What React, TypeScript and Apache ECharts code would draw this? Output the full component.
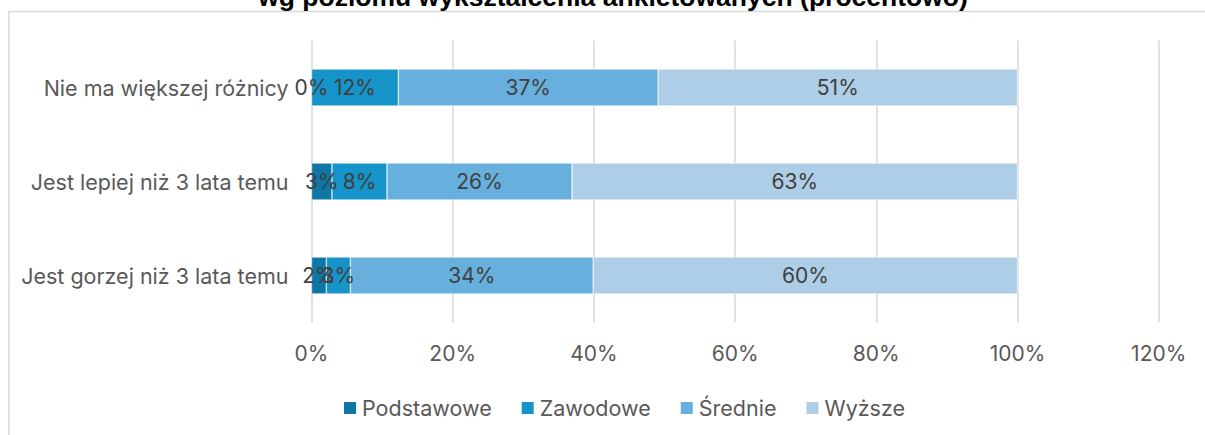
import React, { useEffect, useRef } from "react";
import * as echarts from "echarts";

const categories = [
  "Nie ma większej różnicy",
  "Jest lepiej niż 3 lata temu",
  "Jest gorzej niż 3 lata temu",
];
const seriesNames = ["Podstawowe", "Zawodowe", "Średnie", "Wyższe"];
const podstawowe = [0, 2.9, 2.1];
const zawodowe = [12.3, 7.8, 3.4];
const srednie = [36.8, 26.2, 34.4];
const wyzsze = [50.9, 63.1, 60.1];
const colors = ["#0f77a5", "#1693c9", "#67afdc", "#aecde6"];
const xTicks = { min: 0, max: 120, interval: 20 };
const titleText = "wg poziomu wykształcenia ankietowanych (procentowo)";

const FONT = "Inter, 'Noto Sans', sans-serif";

export default function App() {
  const ref = useRef<HTMLDivElement>(null);
  useEffect(() => {
    if (!ref.current) return;
    const chart = echarts.init(ref.current, undefined, { renderer: "svg" });
    const values = [podstawowe, zawodowe, srednie, wyzsze];
    chart.setOption({
      animation: false,
      backgroundColor: "#ffffff",
      textStyle: { fontFamily: FONT },
      graphic: [
        {
          type: "rect",
          shape: { x: 9, y: 11.5, width: 1300, height: 600 },
          style: { fill: "none", stroke: "#d9d9d9", lineWidth: 1.5 },
          silent: true,
        },
        {
          type: "text",
          x: 613,
          y: 10,
          style: {
            text: titleText,
            fontFamily: "'Liberation Sans', Arial, sans-serif",
            fontWeight: "bold",
            fontSize: 26.5,
            fill: "#000000",
            align: "center",
            verticalAlign: "bottom",
          },
          silent: true,
        },
      ],
      grid: { left: 311.5, right: 46.3, top: 40.5, bottom: 112.5 },
      legend: {
        data: seriesNames,
        top: 392,
        left: 337,
        icon: "rect",
        itemWidth: 14,
        itemHeight: 14,
        itemGap: 28,
        itemTextGap: 6,
        textStyle: { fontSize: 21.5, color: "#595959", fontFamily: FONT },
      },
      xAxis: {
        type: "value",
        min: xTicks.min,
        max: xTicks.max,
        interval: xTicks.interval,
        axisLabel: {
          formatter: "{value}%",
          fontSize: 21,
          color: "#595959",
          margin: 20,
          fontFamily: FONT,
        },
        axisLine: { show: false },
        axisTick: { show: false },
        splitLine: { lineStyle: { color: "#d9d9d9", width: 1.5 } },
      },
      yAxis: {
        type: "category",
        inverse: true,
        data: categories,
        axisLine: { show: false },
        axisTick: { show: false },
        axisLabel: { fontSize: 21.5, color: "#595959", margin: 23, fontFamily: FONT },
      },
      series: seriesNames.map((name, i) => ({
        name,
        type: "bar",
        stack: "total",
        barWidth: 37,
        data: values[i],
        itemStyle: { color: colors[i], borderColor: "#ffffff", borderWidth: 0.5 },
        label: {
          show: true,
          position: "inside",
          formatter: (p: any) => Math.round(p.value) + "%",
          fontSize: 21,
          color: "#404040",
          fontFamily: FONT,
        },
      })),
    });
    return () => chart.dispose();
  }, []);
  return (
    <div
      ref={ref}
      style={{ position: "fixed", left: 0, top: 0, width: 1205, height: 435 }}
    />
  );
}
